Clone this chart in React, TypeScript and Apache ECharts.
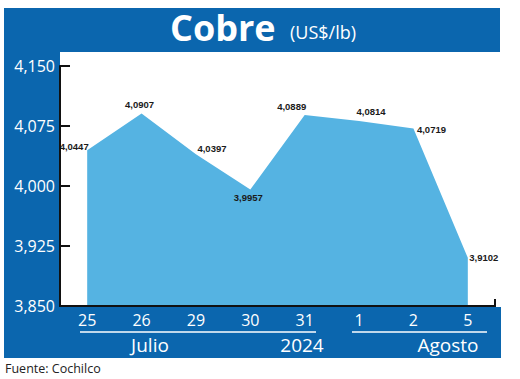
import React, { useEffect, useRef } from "react";
import * as echarts from "echarts";

const categories = ["25", "26", "29", "30", "31", "1", "2", "5"];
const values = [4.0447, 4.0907, 4.0397, 3.9957, 4.0889, 4.0814, 4.0719, 3.9102];
const valueLabels = ["4,0447", "4,0907", "4,0397", "3,9957", "4,0889", "4,0814", "4,0719", "3,9102"];
const yTicks = [3.85, 3.925, 4.0, 4.075, 4.15];
const monthLabels = ["Julio", "2024", "Agosto"];
const title = "Cobre";
const unit = "(US$/lb)";
const source = "Fuente: Cochilco";

const labelPlacement: any[] = [
  { position: "left", distance: 0, offset: [2, -4] },
  { position: "top", distance: 3, offset: [-2, 0] },
  { position: "right", distance: 1, offset: [0, -6] },
  { position: "bottom", distance: 3, offset: [-2, 0] },
  { position: "top", distance: 3, offset: [-13, 0] },
  { position: "top", distance: 4, offset: [12, 0] },
  { position: "right", distance: 3, offset: [0, 1] },
  { position: "right", distance: 1, offset: [0, 0] },
];

const BLUE = "#0b66ae";
const AREA = "#55b3e2";
const SANS = "'Open Sans', 'Noto Sans', sans-serif";
const NARROW = "'Liberation Sans Narrow', 'Liberation Sans', sans-serif";

export default function App() {
  const ref = useRef<HTMLDivElement>(null);
  useEffect(() => {
    if (!ref.current) return;
    const chart = echarts.init(ref.current, undefined, { renderer: "svg" });
    const fmt = (v: number) => v.toFixed(3).replace(".", ",");
    chart.setOption({
      animation: false,
      backgroundColor: "#ffffff",
      grid: { left: 60, right: 25, top: 66, bottom: 73 },
      xAxis: {
        type: "category",
        data: categories,
        boundaryGap: true,
        axisLine: { show: true, lineStyle: { color: "#111", width: 2 } },
        axisTick: { show: false },
        axisLabel: { color: "#ffffff", fontSize: 16, fontFamily: SANS, margin: 6 },
        z: 5,
      },
      yAxis: {
        type: "value",
        min: yTicks[0],
        max: yTicks[yTicks.length - 1],
        interval: 0.075,
        splitLine: { show: false },
        axisLine: { show: true, lineStyle: { color: "#111", width: 2 } },
        axisTick: { show: true, inside: true, length: 10, lineStyle: { color: "#111", width: 2 } },
        axisLabel: {
          color: "#ffffff",
          fontSize: 16,
          fontFamily: SANS,
          margin: 5,
          formatter: (v: number) => fmt(v),
        },
        z: 5,
      },
      graphic: [
        { type: "rect", z: -10, shape: { x: 4, y: 8, width: 496, height: 44 }, style: { fill: BLUE } },
        { type: "rect", z: -10, shape: { x: 4, y: 8, width: 56, height: 350 }, style: { fill: BLUE } },
        { type: "rect", z: -10, shape: { x: 4, y: 307, width: 497, height: 51 }, style: { fill: BLUE } },
        { type: "line", z: 10, shape: { x1: 80, y1: 332, x2: 316, y2: 332 }, style: { stroke: "#ffffff", lineWidth: 1.5 } },
        { type: "line", z: 10, shape: { x1: 352, y1: 332, x2: 487, y2: 332 }, style: { stroke: "#ffffff", lineWidth: 1.5 } },
        { type: "line", z: 10, shape: { x1: 495, y1: 299, x2: 495, y2: 307 }, style: { stroke: "#111", lineWidth: 2 } },
        {
          type: "text", z: 10, x: 170, y: 27,
          style: { text: title, fill: "#ffffff", font: `bold 36px ${SANS}`, verticalAlign: "middle", align: "left" },
        },
        {
          type: "text", z: 10, x: 290, y: 32,
          style: { text: unit, fill: "#ffffff", font: `18px ${SANS}`, verticalAlign: "middle", align: "left" },
        },
        {
          type: "text", z: 10, x: 150, y: 345,
          style: { text: monthLabels[0], fill: "#ffffff", font: `19px ${SANS}`, verticalAlign: "middle", align: "center" },
        },
        {
          type: "text", z: 10, x: 302, y: 345,
          style: { text: monthLabels[1], fill: "#ffffff", font: `19px ${SANS}`, verticalAlign: "middle", align: "center" },
        },
        {
          type: "text", z: 10, x: 448, y: 345,
          style: { text: monthLabels[2], fill: "#ffffff", font: `19px ${SANS}`, verticalAlign: "middle", align: "center" },
        },
        {
          type: "text", z: 10, x: 5, y: 368,
          style: { text: source, fill: "#222222", font: `12.5px ${SANS}`, verticalAlign: "middle", align: "left" },
        },
      ],
      series: [
        {
          type: "line",
          data: values.map((v, i) => ({
            value: v,
            label: { show: true, formatter: valueLabels[i], ...labelPlacement[i] },
          })),
          symbol: "circle",
          symbolSize: 1,
          showSymbol: true,
          itemStyle: { color: "rgba(0,0,0,0)", borderWidth: 0 },
          lineStyle: { width: 0, color: AREA },
          areaStyle: { color: AREA, opacity: 1, origin: "start" },
          label: {
            show: true,
            color: "#1a1a1a",
            fontFamily: NARROW,
            fontWeight: "bold",
            fontSize: 9.5,
          },
          z: 2,
        },
      ],
    });
    return () => chart.dispose();
  }, []);
  return (
    <div
      ref={ref}
      style={{ position: "fixed", left: 0, top: 0, width: 520, height: 379 }}
    />
  );
}
